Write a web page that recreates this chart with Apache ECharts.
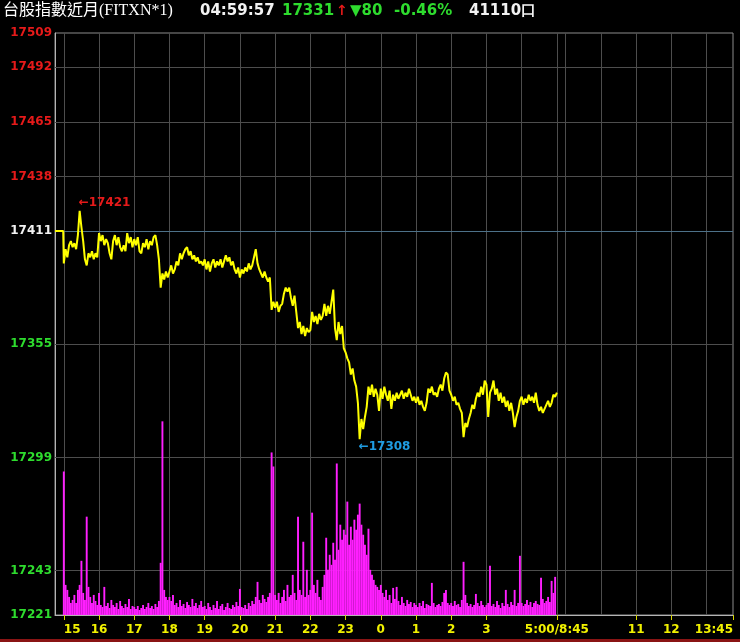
<!DOCTYPE html>
<html><head><meta charset="utf-8">
<script src="https://cdn.jsdelivr.net/npm/echarts@6/dist/echarts.min.js"></script>
<style>html,body{margin:0;padding:0;background:#000}#c{width:740px;height:642px}</style>
</head><body><div id="c"></div>
<script>
// ---------- header ----------
const titleText = '台股指數近月(FITXN*1)';
const quoteTime = '04:59:57';
const lastPrice = 17331;
const changeAbs = 80;
const changePct = '-0.46%';
const totalVolume = 41110;

// ---------- axes ----------
const refPrice = 17411;
const yMin = 17221, yMax = 17509;
const yTicks = [17221, 17243, 17299, 17355, 17411, 17438, 17465, 17492, 17509];
const xTickTimes = ['15:00','16:00','17:00','18:00','19:00','20:00','21:00','22:00','23:00','0:00','1:00','2:00','3:00','5:00','11:00','12:00','13:45'];
const xTickLabels = ['15','16','17','18','19','20','21','22','23','0','1','2','3','5:00/8:45','11','12','13:45'];
const hourLineTimes = ['15:00','16:00','17:00','18:00','19:00','20:00','21:00','22:00','23:00','0:00','1:00','2:00','3:00','4:00','5:00','9:00','10:00','11:00','12:00','13:00'];
const axisStartTime = '14:45', axisEndTime = '13:45';

// ---------- series: 3-minute samples from 15:00 ----------
const seriesStart = '15:00';
const stepMin = 3;
const price15 = [17395,17402,17398,17404,17406,17403,17405,17402,17409,17421,17413,17406,17397,17394,17400,17398,17401,17397,17400,17398];
const price16 = [17410,17406,17409,17404,17407,17405,17400,17397,17406,17409,17404,17408,17403,17401,17404,17401,17410,17405,17408,17403];
const price17 = [17407,17404,17408,17401,17400,17405,17403,17407,17402,17406,17404,17408,17409,17404,17397,17383,17390,17387,17391,17388];
const price18 = [17391,17394,17390,17392,17396,17394,17400,17397,17400,17402,17403,17399,17401,17397,17399,17396,17398,17395,17396,17394];
const price19 = [17397,17392,17396,17391,17395,17397,17393,17396,17394,17397,17393,17396,17399,17396,17398,17394,17396,17392,17390,17393];
const price20 = [17388,17392,17390,17393,17391,17395,17392,17394,17398,17402,17395,17392,17390,17388,17391,17388,17386,17388,17372,17376];
const price21 = [17373,17376,17371,17374,17375,17380,17383,17381,17383,17378,17374,17379,17371,17363,17366,17360,17364,17359,17363,17361];
const price22 = [17362,17371,17366,17369,17365,17370,17367,17369,17375,17369,17374,17370,17376,17382,17363,17357,17366,17360,17364,17353];
const price23 = [17351,17348,17346,17340,17343,17337,17334,17326,17308,17318,17313,17319,17324,17334,17330,17335,17329,17333,17330,17322];
const price00 = [17333,17328,17334,17330,17327,17332,17323,17330,17327,17331,17328,17330,17332,17328,17331,17329,17333,17330,17327,17329];
const price01 = [17326,17329,17325,17327,17324,17322,17326,17333,17331,17334,17330,17331,17329,17333,17335,17332,17338,17341,17340,17332];
const price02 = [17330,17327,17329,17325,17326,17323,17321,17309,17316,17314,17318,17321,17325,17323,17328,17331,17329,17334,17330,17337];
const price03 = [17335,17319,17331,17333,17337,17330,17333,17327,17331,17326,17329,17324,17327,17322,17326,17321,17314,17319,17322,17327];
const price04 = [17329,17325,17328,17326,17330,17327,17329,17326,17331,17325,17322,17324,17321,17323,17325,17327,17324,17326,17330,17329,17331];

const vol15 = [143,30,25,18,12,15,20,12,25,30,54,22,15,98,28,18,12,20,14,10];
const vol16 = [22,10,8,28,9,12,7,15,10,8,12,6,14,9,7,11,8,16,6,9];
const vol17 = [8,6,9,5,7,10,6,8,12,7,9,6,11,8,14,52,193,25,18,15];
const vol18 = [18,14,20,10,12,8,15,9,11,7,13,10,8,16,9,12,7,10,14,8];
const vol19 = [9,6,12,8,5,10,7,14,6,9,11,5,8,12,7,6,10,8,13,9];
const vol20 = [26,8,7,10,6,12,9,14,11,18,33,15,12,20,16,13,18,22,162,148];
const vol21 = [20,15,22,12,18,25,14,30,18,20,40,22,15,98,25,20,73,18,45,20];
const vol22 = [25,102,30,22,35,18,15,28,40,77,45,60,50,72,55,151,65,90,75,85];
const vol23 = [80,113,70,88,75,95,85,100,111,90,80,70,60,86,45,40,35,30,28,25];
const vol00 = [30,22,18,25,15,20,12,27,16,28,14,10,18,12,9,15,11,13,8,12];
const vol01 = [10,8,12,9,14,7,11,10,9,32,12,8,10,11,9,13,22,25,12,10];
const vol02 = [12,9,14,10,11,8,15,53,20,12,9,11,8,10,21,12,9,14,10,8];
const vol03 = [10,12,49,9,11,8,14,10,7,12,9,25,11,8,13,10,25,9,12,59];
const vol04 = [12,9,11,15,10,13,8,12,14,11,10,37,16,12,14,18,13,34,22,38];
const volMax = 580;

// ---------- helpers ----------
// session axis: night 14:45..05:00 then day 08:45..13:45, continuous in minutes
function toAxis(t) {
  const [h, m] = t.split(':').map(Number);
  if (h >= 14) return (h - 15) * 60 + m + 15;
  if (h <= 5) return (h + 9) * 60 + m + 15;
  return 855 + (h * 60 + m - 525);
}
const prices = [].concat(price15,price16,price17,price18,price19,price20,price21,price22,price23,price00,price01,price02,price03,price04);
const vols = [].concat(vol15,vol16,vol17,vol18,vol19,vol20,vol21,vol22,vol23,vol00,vol01,vol02,vol03,vol04);
const x0 = toAxis(seriesStart);
const priceData = [[toAxis(axisStartTime), refPrice], [x0 - 1, refPrice]].concat(prices.map((p, i) => [x0 + i * stepMin, p]));
const volData = vols.map((v, i) => [x0 + i * stepMin, v]);
const xTickVals = xTickTimes.map(toAxis);
const labelOf = {};
xTickVals.forEach((v, i) => labelOf[v] = xTickLabels[i]);

const gridLineColor = '#4d4d4d';
const markLines = hourLineTimes.map(t => ({ xAxis: toAxis(t), lineStyle: { color: gridLineColor } }))
  .concat(yTicks.filter(v => v !== yMin && v !== yMax).map(v => ({ yAxis: v, lineStyle: { color: v === refPrice ? '#4d7189' : gridLineColor } })));

const RED = '#e61a1a', GREEN = '#2edc2e', WHITE = '#f2f2f2', YELLOW = '#f2f200';
const numFont = '"DejaVu Sans", Verdana, sans-serif';

const chart = echarts.init(document.getElementById('c'));
chart.setOption({
  backgroundColor: '#000',
  animation: false,
  grid: { left: 55, right: 7, top: 33, bottom: 27, show: true, borderColor: '#8c8c8c', borderWidth: 1 },
  graphic: [
    { type: 'text', left: 3, top: 3, style: { text: titleText, fill: '#ffffff', font: '16px "Liberation Serif", "Noto Sans CJK TC", serif' } },
    { type: 'text', left: 200, top: 4, style: { text: quoteTime, fill: WHITE, font: 'bold 15px ' + numFont } },
    { type: 'text', left: 282, top: 4, style: { text: String(lastPrice), fill: GREEN, font: 'bold 15px ' + numFont } },
    { type: 'text', left: 336, top: 4, style: { text: '↑', fill: RED, font: 'bold 14px ' + numFont } },
    { type: 'text', left: 350, top: 4, style: { text: '▼' + changeAbs, fill: GREEN, font: 'bold 15px ' + numFont } },
    { type: 'text', left: 394, top: 4, style: { text: changePct, fill: GREEN, font: 'bold 15px ' + numFont } },
    { type: 'text', left: 469, top: 4, style: { text: totalVolume + '口', fill: WHITE, font: 'bold 15px ' + numFont } },
    { type: 'rect', left: 0, top: 639, shape: { width: 740, height: 3 }, style: { fill: '#8a1414' } }
  ],
  xAxis: [{
    type: 'value', min: toAxis(axisStartTime), max: toAxis(axisEndTime),
    axisLine: { show: true, lineStyle: { color: '#b4b4b4', width: 1 } },
    axisTick: { show: true, customValues: xTickVals, length: 5, lineStyle: { color: '#d8d800' } },
    axisLabel: {
      customValues: xTickVals, formatter: v => labelOf[v] || '', color: YELLOW,
      fontWeight: 'bold', fontSize: 12, fontFamily: numFont, margin: 9,
      alignMinLabel: 'left', alignMaxLabel: 'right'
    },
    splitLine: { show: false }
  }],
  yAxis: [{
    type: 'value', min: yMin, max: yMax,
    axisLine: { show: true, lineStyle: { color: '#b4b4b4' } },
    axisTick: { show: false, customValues: yTicks },
    axisLabel: {
      customValues: yTicks, margin: 3, fontWeight: 'bold', fontSize: 12, fontFamily: numFont,
      formatter: v => String(v),
      color: v => (Number(v) > refPrice ? RED : Number(v) === refPrice ? WHITE : GREEN)
    },
    splitLine: { show: false }
  }, {
    type: 'value', min: 0, max: volMax, show: false, splitLine: { show: false }
  }],
  series: [{
    type: 'bar', xAxisIndex: 0, yAxisIndex: 1, data: volData, barWidth: 1.9,
    itemStyle: { color: '#ff1fff' }, z: 2, silent: true
  }, {
    type: 'line', xAxisIndex: 0, yAxisIndex: 0, data: priceData, showSymbol: false, z: 3,
    lineStyle: { color: '#ffff00', width: 2 },
    markLine: { z: 1, silent: true, symbol: ['none', 'none'], label: { show: false }, lineStyle: { type: 'solid', width: 1 }, data: markLines },
    markPoint: {
      symbol: 'circle', symbolSize: 2, itemStyle: { color: 'rgba(0,0,0,0)' },
      data: [
        { type: 'max', valueDim: 'y', label: { show: true, formatter: p => '←' + p.value, position: [0, -7], align: 'left', verticalAlign: 'middle', color: RED, fontWeight: 'bold', fontSize: 12, fontFamily: numFont } },
        { type: 'min', valueDim: 'y', label: { show: true, formatter: p => '←' + p.value, position: [0, 9], align: 'left', verticalAlign: 'middle', color: '#1f9ce2', fontWeight: 'bold', fontSize: 12, fontFamily: numFont } }
      ]
    }
  }]
});
</script></body></html>
